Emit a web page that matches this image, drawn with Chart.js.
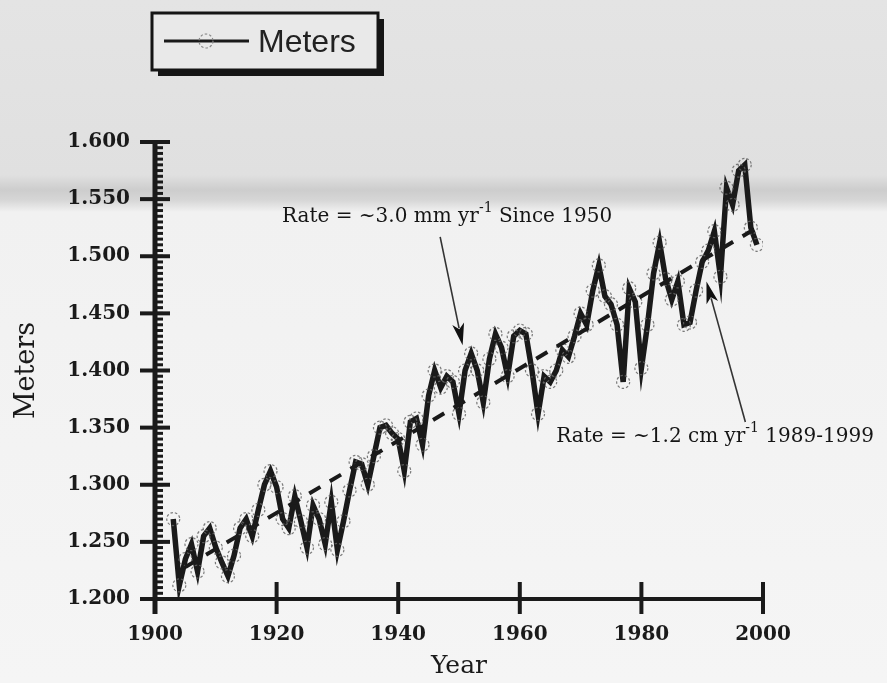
<!DOCTYPE html>
<html lang="en">
<head>
    <meta charset="UTF-8">
    <title>Sea Level (Meters)</title>
    <script src="https://cdn.jsdelivr.net/npm/chart.js"></script>
    <style>
        html, body {
            margin: 0;
            padding: 0;
        }
        body {
            width: 887px;
            height: 683px;
            background: linear-gradient(to bottom, #e4e4e4 0px, #e0e0e0 175px, #cdcdcd 190px, #d6d6d6 200px, #f1f1f1 212px, #f5f5f5 100%);
        }
        .wrap {
            position: relative;
            width: 887px;
            height: 683px;
        }
    </style>
</head>
<body>
<div class="wrap">
    <canvas id="seaLevel" width="887" height="683"></canvas>
</div>
<script>
// yearly values
const years = [
    1903, 1904, 1905, 1906, 1907, 1908, 1909, 1910, 1911, 1912,
    1913, 1914, 1915, 1916, 1917, 1918, 1919, 1920, 1921, 1922,
    1923, 1924, 1925, 1926, 1927, 1928, 1929, 1930, 1931, 1932,
    1933, 1934, 1935, 1936, 1937, 1938, 1939, 1940, 1941, 1942,
    1943, 1944, 1945, 1946, 1947, 1948, 1949, 1950, 1951, 1952,
    1953, 1954, 1955, 1956, 1957, 1958, 1959, 1960, 1961, 1962,
    1963, 1964, 1965, 1966, 1967, 1968, 1969, 1970, 1971, 1972,
    1973, 1974, 1975, 1976, 1977, 1978, 1979, 1980, 1981, 1982,
    1983, 1984, 1985, 1986, 1987, 1988, 1989, 1990, 1991, 1992,
    1993, 1994, 1995, 1996, 1997, 1998, 1999
];
const meters = [
    1.270, 1.212, 1.235, 1.248, 1.224, 1.255, 1.262, 1.245, 1.232, 1.220,
    1.238, 1.262, 1.270, 1.255, 1.278, 1.300, 1.312, 1.298, 1.270, 1.262,
    1.290, 1.268, 1.245, 1.282, 1.270, 1.248, 1.285, 1.243, 1.268, 1.295,
    1.320, 1.318, 1.300, 1.325, 1.350, 1.352, 1.345, 1.340, 1.312, 1.355,
    1.358, 1.335, 1.378, 1.400, 1.385, 1.395, 1.390, 1.362, 1.400, 1.415,
    1.400, 1.372, 1.410, 1.432, 1.420, 1.395, 1.430, 1.435, 1.432, 1.400,
    1.362, 1.395, 1.390, 1.400, 1.418, 1.412, 1.430, 1.450, 1.440, 1.470,
    1.492, 1.465, 1.458, 1.440, 1.390, 1.472, 1.460, 1.402, 1.440, 1.485,
    1.512, 1.480, 1.462, 1.478, 1.440, 1.442, 1.470, 1.495, 1.505, 1.522,
    1.482, 1.560, 1.545, 1.575, 1.580, 1.525, 1.510
];
// dashed trend line end points
const trendYears = [1905, 1999];
const trendMeters = [1.228, 1.525];

const xTicks = [1900, 1920, 1940, 1960, 1980, 2000];
const yTicks = [1.200, 1.250, 1.300, 1.350, 1.400, 1.450, 1.500, 1.550, 1.600];

const ink = "#1a1a1a";

// annotations, anchored in data coordinates
const notes = [
    { text: "Rate = ~3.0 mm yr", sup: "-1", rest: " Since 1950", x: 1920.9, y: 1.530,
      from: [1946.9, 1.517], to: [1950.6, 1.422] },
    { text: "Rate = ~1.2 cm yr", sup: "-1", rest: " 1989-1999", x: 1966.0, y: 1.3375,
      from: [1997.1, 1.355], to: [1990.7, 1.478] }
];

function arrow(ctx, x1, y1, x2, y2) {
    const ang = Math.atan2(y2 - y1, x2 - x1);
    const len = 22, half = 6;
    ctx.strokeStyle = "#333";
    ctx.lineWidth = 1.6;
    ctx.beginPath();
    ctx.moveTo(x1, y1);
    ctx.lineTo(x2 - Math.cos(ang) * len * 0.8, y2 - Math.sin(ang) * len * 0.8);
    ctx.stroke();
    ctx.fillStyle = "#111";
    ctx.beginPath();
    ctx.moveTo(x2, y2);
    ctx.lineTo(x2 - Math.cos(ang) * len - Math.sin(ang) * half, y2 - Math.sin(ang) * len + Math.cos(ang) * half);
    ctx.lineTo(x2 - Math.cos(ang) * len * 0.75, y2 - Math.sin(ang) * len * 0.75);
    ctx.lineTo(x2 - Math.cos(ang) * len + Math.sin(ang) * half, y2 - Math.sin(ang) * len - Math.cos(ang) * half);
    ctx.closePath();
    ctx.fill();
}

const decorPlugin = {
    id: "decor",
    beforeDatasetsDraw(chart) {
        const ctx = chart.ctx;
        const xs = chart.scales.x, ys = chart.scales.y;
        const a = chart.chartArea;
        ctx.save();
        ctx.strokeStyle = ink;
        ctx.lineCap = "butt";
        // y axis line
        ctx.lineWidth = 5;
        ctx.beginPath();
        ctx.moveTo(a.left, a.top - 2);
        ctx.lineTo(a.left, a.bottom + 15);
        ctx.stroke();
        // x axis line
        ctx.lineWidth = 4;
        ctx.beginPath();
        ctx.moveTo(a.left, a.bottom);
        ctx.lineTo(a.right, a.bottom);
        ctx.stroke();
        // y minor ticks
        ctx.lineWidth = 3;
        for (let i = 0; i <= 80; i++) {
            const v = 1.2 + i * 0.005;
            const py = ys.getPixelForValue(v);
            ctx.beginPath();
            ctx.moveTo(a.left, py);
            ctx.lineTo(a.left + 8, py);
            ctx.stroke();
        }
        // y major ticks
        ctx.lineWidth = 4;
        yTicks.forEach(v => {
            const py = ys.getPixelForValue(v);
            ctx.beginPath();
            ctx.moveTo(a.left - 15, py);
            ctx.lineTo(a.left + 15, py);
            ctx.stroke();
        });
        // x major ticks
        xTicks.forEach(v => {
            const px = xs.getPixelForValue(v);
            ctx.beginPath();
            ctx.moveTo(px, a.bottom - 17);
            ctx.lineTo(px, a.bottom + 15);
            ctx.stroke();
        });
        ctx.restore();
    },
    beforeDatasetDraw(chart, args) {
        if (args.index === 1) {
            chart.ctx.save();
            chart.ctx.setLineDash([2.5, 2]);
        }
    },
    afterDatasetDraw(chart, args) {
        if (args.index === 1) {
            chart.ctx.restore();
        }
    },
    afterDraw(chart) {
        const ctx = chart.ctx;
        const xs = chart.scales.x, ys = chart.scales.y;
        ctx.save();
        // annotations
        notes.forEach(n => {
            const px = xs.getPixelForValue(n.x), py = ys.getPixelForValue(n.y);
            ctx.fillStyle = "#151515";
            ctx.textBaseline = "alphabetic";
            ctx.textAlign = "left";
            ctx.font = "20px 'DejaVu Serif'";
            ctx.fillText(n.text, px, py);
            let w = ctx.measureText(n.text).width;
            ctx.font = "14px 'DejaVu Serif'";
            ctx.fillText(n.sup, px + w, py - 10);
            w += ctx.measureText(n.sup).width;
            ctx.font = "20px 'DejaVu Serif'";
            ctx.fillText(n.rest, px + w, py);
            arrow(ctx,
                xs.getPixelForValue(n.from[0]), ys.getPixelForValue(n.from[1]),
                xs.getPixelForValue(n.to[0]), ys.getPixelForValue(n.to[1]));
        });

        // legend box with drop shadow
        const bx = 152, by = 13, bw = 226, bh = 57;
        ctx.fillStyle = "#151515";
        ctx.fillRect(bx + 6, by + 6, bw, bh);
        ctx.fillStyle = "#e9e9e9";
        ctx.fillRect(bx, by, bw, bh);
        ctx.strokeStyle = "#151515";
        ctx.lineWidth = 3;
        ctx.strokeRect(bx, by, bw, bh);
        ctx.lineWidth = 3;
        ctx.strokeStyle = ink;
        ctx.beginPath();
        ctx.moveTo(bx + 12, by + 28);
        ctx.lineTo(bx + 97, by + 28);
        ctx.stroke();
        ctx.lineWidth = 1.2;
        ctx.strokeStyle = "#888";
        ctx.setLineDash([2.5, 2]);
        ctx.beginPath();
        ctx.arc(bx + 54, by + 28, 7, 0, Math.PI * 2);
        ctx.stroke();
        ctx.setLineDash([]);
        ctx.fillStyle = "#222";
        ctx.font = "32px 'Liberation Sans'";
        ctx.textBaseline = "middle";
        ctx.fillText("Meters", bx + 106, by + 30);
        ctx.restore();
    }
};

const ctx = document.getElementById("seaLevel").getContext("2d");
new Chart(ctx, {
    type: "line",
    data: {
        datasets: [
            {
                label: "Trend",
                data: trendYears.map((x, i) => ({ x: x, y: trendMeters[i] })),
                borderColor: ink,
                borderWidth: 4,
                borderDash: [13, 11],
                pointRadius: 0,
                fill: false
            },
            {
                label: "Meters",
                data: years.map((x, i) => ({ x: x, y: meters[i] })),
                borderColor: ink,
                borderWidth: 5.5,
                borderJoinStyle: "miter",
                tension: 0,
                pointRadius: 6.5,
                pointBorderWidth: 1.2,
                pointBorderColor: "rgba(100,100,100,0.85)",
                pointBackgroundColor: "rgba(0,0,0,0)",
                fill: false
            }
        ]
    },
    plugins: [decorPlugin],
    options: {
        responsive: false,
        animation: false,
        layout: { padding: { top: 142, right: 124, left: 0, bottom: 0 } },
        plugins: {
            legend: { display: false },
            tooltip: { enabled: false }
        },
        scales: {
            x: {
                type: "linear",
                min: 1900,
                max: 2000,
                grid: { display: false, drawTicks: false },
                border: { display: false },
                afterFit(scale) { scale.height = 84; },
                afterBuildTicks(scale) { scale.ticks = xTicks.map(v => ({ value: v })); },
                ticks: {
                    padding: 24,
                    color: "#1a1a1a",
                    font: { family: "'DejaVu Serif'", size: 20, weight: "bold" },
                    callback: v => String(v)
                },
                title: {
                    display: true,
                    text: "Year",
                    color: "#1a1a1a",
                    padding: { top: 0, bottom: 2 },
                    font: { family: "'DejaVu Serif'", size: 25 }
                }
            },
            y: {
                min: 1.2,
                max: 1.6,
                grid: { display: false, drawTicks: false },
                border: { display: false },
                afterFit(scale) { scale.width = 155; },
                afterBuildTicks(scale) { scale.ticks = yTicks.map(v => ({ value: v })); },
                ticks: {
                    padding: 25,
                    color: "#1a1a1a",
                    font: { family: "'DejaVu Serif'", size: 20, weight: "bold" },
                    callback: v => v.toFixed(3)
                },
                title: {
                    display: true,
                    text: "Meters",
                    color: "#1a1a1a",
                    padding: { top: 11, bottom: 0 },
                    font: { family: "'DejaVu Serif'", size: 27 }
                }
            }
        }
    }
});
</script>
</body>
</html>
